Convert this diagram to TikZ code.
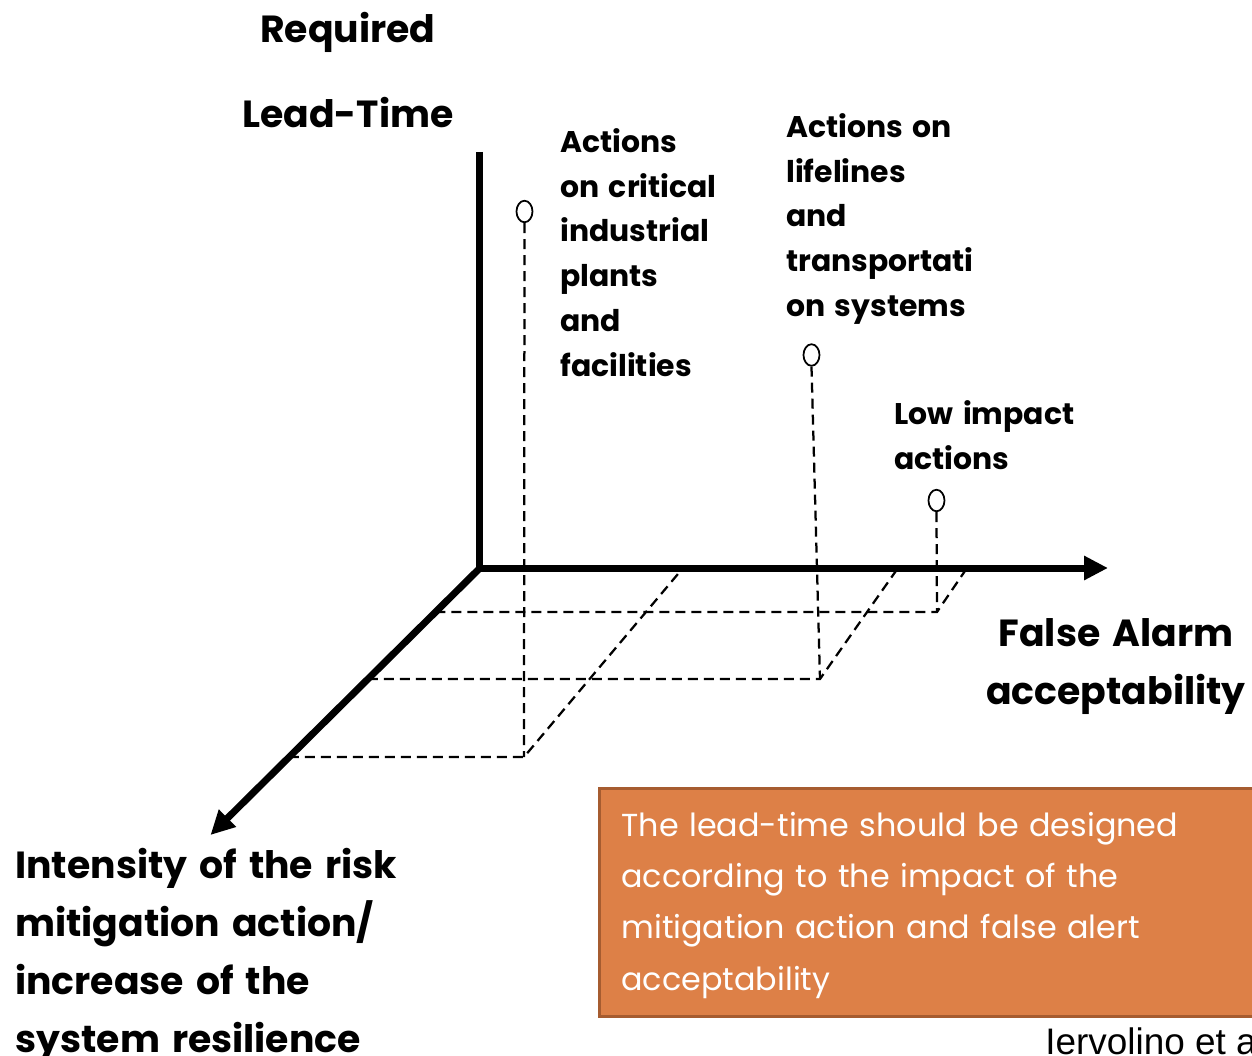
\documentclass[tikz,border=0pt]{standalone}
\usepackage{fontspec}
\setmainfont{Poppins}[WordSpace=1.5]
\newfontfamily\citefont{Liberation Sans}
\usetikzlibrary{arrows.meta,shapes.geometric}
\definecolor{notefill}{RGB}{221,128,71}
\definecolor{noteline}{RGB}{166,92,48}
\tikzset{
   arrow/.style = {-{Triangle[length=4.8mm,width=4.6mm]},line width=1.4mm},
   guide/.style = {line width=0.45mm,dash pattern=on 2mm off 1.2mm},
   marker/.style = {ellipse,draw,fill=white,line width=0.35mm,minimum width=3.2mm,minimum height=4.3mm,inner sep=0pt},
   smalltext/.style = {font=\bfseries\fontsize{17}{25.5}\selectfont,align=left,inner sep=0pt},
   bigtext/.style = {font=\bfseries\fontsize{21.5}{32.9}\selectfont,inner sep=0pt},
}

\begin{document}
\begin{tikzpicture}

      \clip (-96mm,-97.6mm) rectangle (154.4mm,113.6mm);

      \coordinate (o)    at (0mm,0mm);
      \coordinate (ytop) at (0mm,83.2mm);
      \coordinate (xtip) at (125.6mm,0mm);
      \coordinate (ztip) at (-53.9mm,-53.4mm);

      % markers for the three kinds of action
      \node[marker] (crit) at (8.9mm,71.3mm)  {};
      \node[marker] (life) at (66.3mm,42.6mm) {};
      \node[marker] (low)  at (91.3mm,13.5mm) {};

      % their feet in the base plane
      \coordinate (critfoot) at (8.8mm,-37.8mm);
      \coordinate (lifefoot) at (68mm,-22.2mm);
      \coordinate (lowfoot)  at (91.4mm,-8.8mm);

      % where the guides meet the two floor axes
      \coordinate (critz) at (-38.2mm,-37.8mm);
      \coordinate (lifez) at (-22.4mm,-22.2mm);
      \coordinate (lowz)  at (-8.9mm,-8.8mm);
      \coordinate (critx) at (40.6mm,0mm);
      \coordinate (lifex) at (83.6mm,0mm);
      \coordinate (lowx)  at (97.4mm,0mm);

      \draw[guide] (crit.south) -- (critfoot);
      \draw[guide] (life.south) -- (lifefoot);
      \draw[guide] (low.south)  -- (lowfoot);
      \draw[guide] (critz) -- (critfoot) -- (critx);
      \draw[guide] (lifez) -- (lifefoot) -- (lifex);
      \draw[guide] (lowz)  -- (lowfoot)  -- (lowx);

      % axes
      \draw[arrow] (o) -- (ztip);
      \draw[arrow] (ytop) -- (o) -- (xtip);

      \node[
         bigtext,
         align=center,
         font=\bfseries\fontsize{21.5}{48.8}\selectfont,
      ] (leadtime) at (-26.4mm,99.6mm) {Required\\Lead-Time};

      \node[
         smalltext,
         anchor=north west,
      ] (crittext) at (16mm,88mm) {Actions\\on critical\\industrial\\plants\\and\\facilities};

      \node[
         smalltext,
         anchor=north west,
      ] (lifetext) at (61.2mm,91mm) {Actions on\\lifelines\\and\\transportati\\on systems};

      \node[
         smalltext,
         anchor=north west,
      ] (lowtext) at (82.8mm,33.6mm) {Low impact\\actions};

      \node[
         bigtext,
         align=center,
         anchor=north,
      ] (falsealarm) at (127.2mm,-10mm) {False Alarm\\acceptability};

      \node[
         bigtext,
         align=left,
         anchor=north west,
      ] (intensity) at (-93mm,-56mm) {Intensity of the risk\\mitigation action/\\increase of the\\system resilience};

      \node[
         rectangle,
         draw=noteline,
         fill=notefill,
         text=white,
         line width=0.6mm,
         anchor=north west,
         minimum height=45.6mm,
         text width=124mm,
         inner xsep=4.4mm,
         align=left,
         font=\fontsize{18.1}{29.2}\selectfont,
      ] (note) at (23.6mm,-43.8mm) {\rule{0pt}{17pt}The lead-time should be designed\\according to the impact of the\\mitigation action and false alert\\acceptability};

      \node[
         anchor=base west,
         inner sep=0pt,
         font=\citefont\fontsize{21}{24}\selectfont,
      ] (cite) at (113mm,-97.2mm) {Iervolino et al.};

\end{tikzpicture}
\end{document}
